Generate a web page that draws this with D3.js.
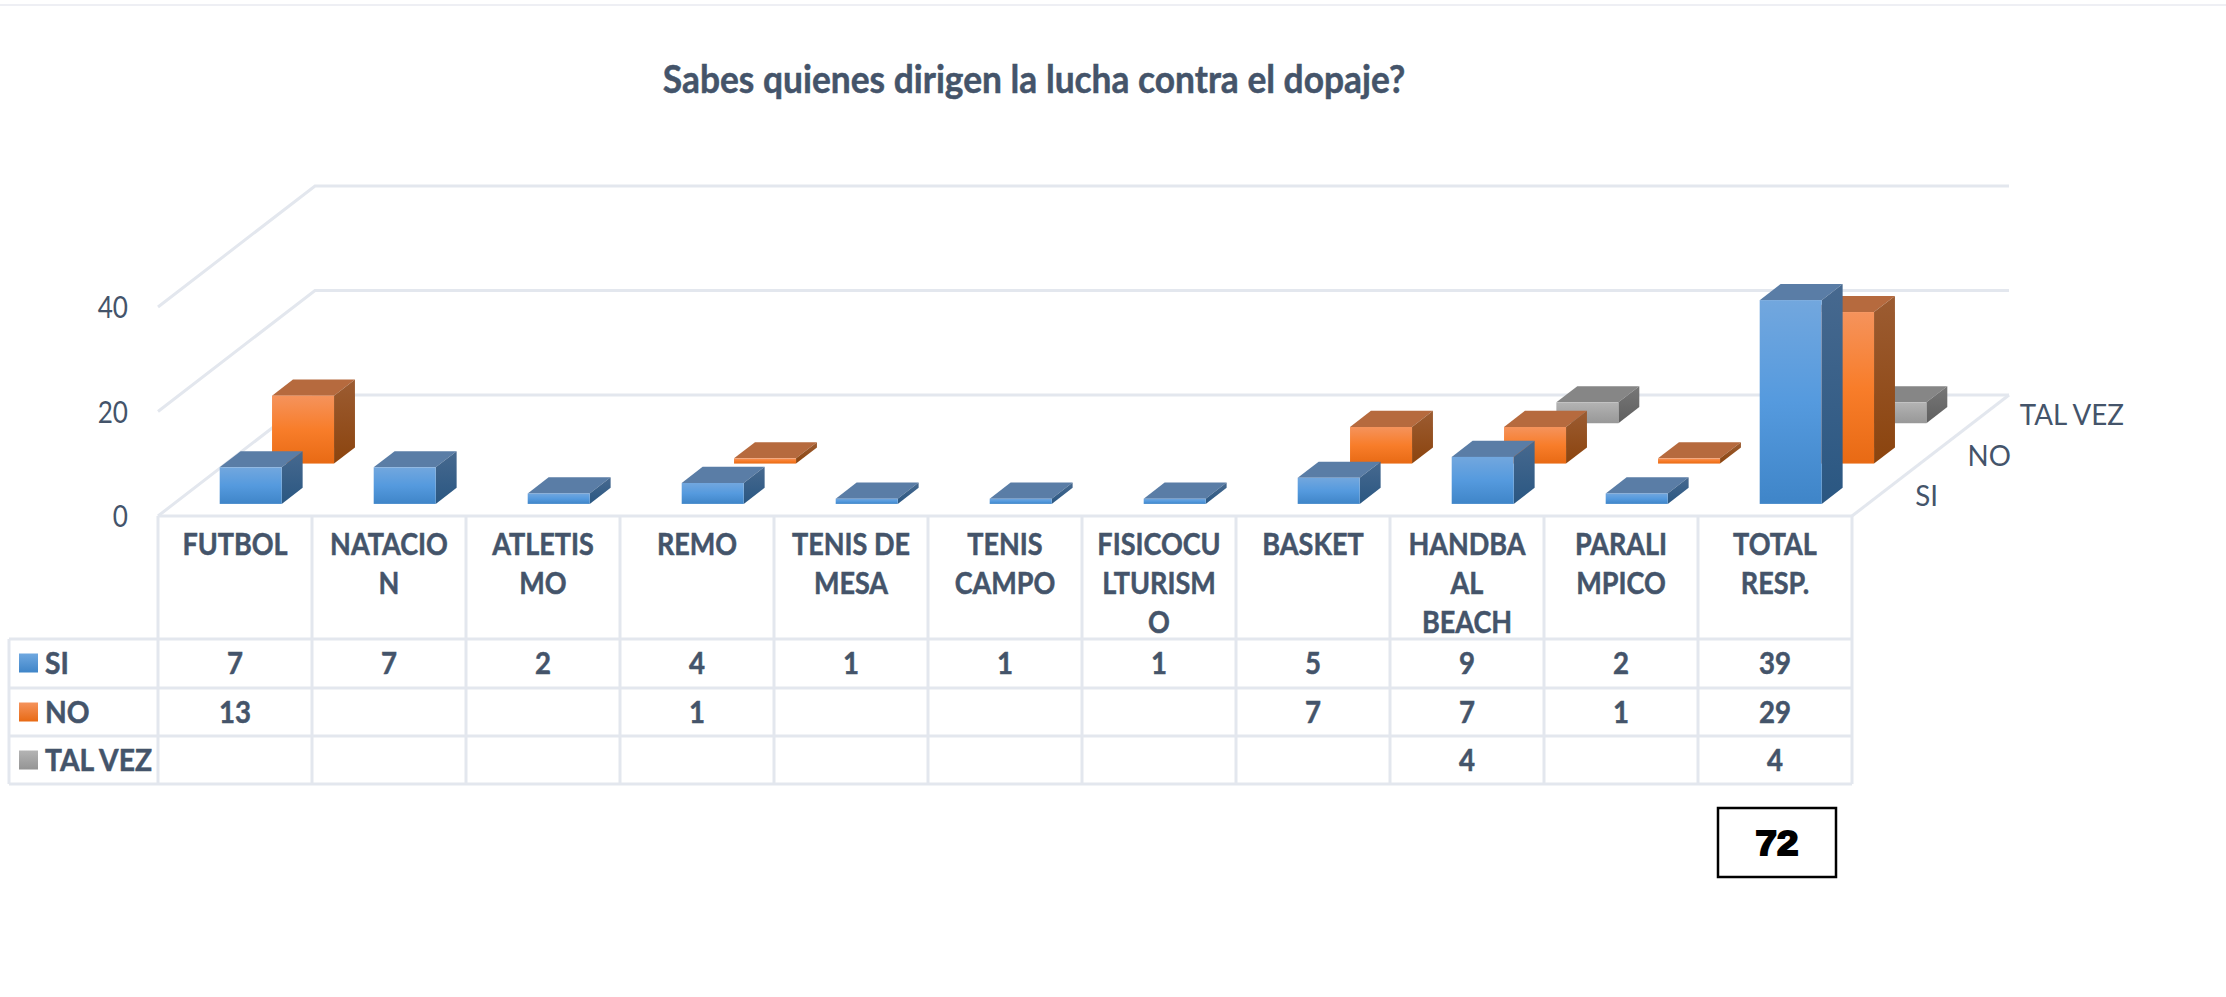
<!DOCTYPE html>
<html><head><meta charset="utf-8">
<script src="https://cdn.jsdelivr.net/npm/d3@7/dist/d3.min.js"></script>
<style>
html,body{margin:0;padding:0;background:#fff;overflow:hidden}
text{font-family:Lato,"Noto Sans",sans-serif;fill:#44546a}
.b{stroke:#44546a;stroke-width:.5px}
</style></head><body><svg id="c" width="2226" height="997"></svg>
<script>
const titleText = "Sabes quienes dirigen la lucha contra el dopaje?";
const categories = ["FUTBOL","NATACION","ATLETISMO","REMO","TENIS DE MESA","TENIS CAMPO","FISICOCULTURISMO","BASKET","HANDBAAL BEACH","PARALIMPICO","TOTAL RESP."];
const categoryLines = [["FUTBOL"],["NATACIO","N"],["ATLETIS","MO"],["REMO"],["TENIS DE","MESA"],["TENIS","CAMPO"],["FISICOCU","LTURISM","O"],["BASKET"],["HANDBA","AL","BEACH"],["PARALI","MPICO"],["TOTAL","RESP."]];
const seriesNames = ["SI","NO","TAL VEZ"];
const si = [7,7,2,4,1,1,1,5,9,2,39];
const no = [13,null,null,1,null,null,null,7,7,1,29];
const talVez = [null,null,null,null,null,null,null,null,4,null,4];
const yTicks = [0,20,40];
const grandTotal = 72;
const seriesValues = [si,no,talVez];
const palettes = [
 {front:["#72a7de","#559ade","#3f85c8"],top:"#5a7da6",side:["#47698f","#2a5782"],key:["#6fa8e0","#3f85c8"]},
 {front:["#f5935c","#f87d2a","#e86a14"],top:"#b66a3e",side:["#9c5c32","#8b440e"],key:["#f5935c","#e86a14"]},
 {front:["#b4b4b4","#a5a5a5","#989898"],top:"#868686",side:["#777777","#5f5f5f"],key:["#b4b4b4","#949494"]}
];
const gridColor="#e3e7ee";

const svg=d3.select("#c");
const defs=svg.append("defs");
function grad(id,stops){
  const g=defs.append("linearGradient").attr("id",id).attr("x1",0).attr("y1",0).attr("x2",0).attr("y2",1);
  stops.forEach((c,i)=>g.append("stop").attr("offset",i/(stops.length-1)).attr("stop-color",c));
}
palettes.forEach((p,i)=>{grad("f"+i,p.front);grad("s"+i,p.side);grad("k"+i,p.key);});

// scales: category across, series in depth, value upward
const x=d3.scaleBand().domain(d3.range(categories.length)).range([158,1852]).paddingInner(0).paddingOuter(0);
const y=d3.scaleLinear().domain([0,40]).range([516,307]);
const depthX=d3.scaleLinear().domain([0,3]).range([0,157]);
const depthY=d3.scaleLinear().domain([0,3]).range([0,-121]);
const P=(xp,val,d)=>[xp+depthX(d),y(val)+depthY(d)];
const pts=a=>a.map(p=>p.join(",")).join(" ");

function fit(sel,factor){sel.each(function(){const l=this.getComputedTextLength();
  d3.select(this).attr("textLength",l*factor).attr("lengthAdjust","spacingAndGlyphs");});return sel;}

svg.append("line").attr("x1",0).attr("x2",2226).attr("y1",5).attr("y2",5).attr("stroke","#e8eaf0").attr("stroke-width",1.5);

fit(svg.append("text").attr("class","b").attr("x",1034).attr("y",93).attr("text-anchor","middle")
  .attr("font-size",39).attr("font-weight",700).text(titleText),0.906);

const grid=svg.append("g").attr("stroke",gridColor).attr("stroke-width",3).attr("fill","none");
yTicks.forEach(t=>{
  grid.append("polyline").attr("points",pts([P(x.range()[0],t,0),P(x.range()[0],t,3),P(x.range()[1],t,3)]));
});
grid.append("line").attr("x1",P(1852,0,0)[0]).attr("y1",P(1852,0,0)[1]).attr("x2",P(1852,0,3)[0]).attr("y2",P(1852,0,3)[1]);

const tickLab=svg.append("g");
yTicks.forEach(t=>{
  fit(tickLab.append("text").attr("x",128).attr("y",y(t)+11).attr("text-anchor","end").attr("font-size",30).text(t),0.87);
});

// table
const rowY=[516,639,688,736,784];
const tbl=svg.append("g").attr("stroke",gridColor).attr("stroke-width",3).attr("fill","none");
tbl.append("line").attr("x1",158).attr("x2",1852).attr("y1",rowY[0]).attr("y2",rowY[0]);
rowY.slice(1).forEach(v=>tbl.append("line").attr("x1",9).attr("x2",1852).attr("y1",v).attr("y2",v));
tbl.append("line").attr("x1",9).attr("x2",9).attr("y1",639).attr("y2",784);
d3.range(categories.length+1).forEach(i=>{
  const xp=i<categories.length?x(i):x.range()[1];
  tbl.append("line").attr("x1",xp).attr("x2",xp).attr("y1",516).attr("y2",784);
});

// bars
const wFrac=62/154, dDepth=0.4;
const barLayer=svg.append("g");
[2,1,0].forEach(s=>{
  categories.forEach((c,i)=>{
    const v=seriesValues[s][i]; if(v==null) return;
    const d0=s+(1-dDepth)/2, d1=d0+dDepth;
    const bw=x.bandwidth()*wFrac;
    const x0=x(i)+(x.bandwidth()-bw)/2, x1=x0+bw;
    const g=barLayer.append("g");
    g.append("polygon").attr("points",pts([P(x0,v,d0),P(x1,v,d0),P(x1,v,d1),P(x0,v,d1)])).attr("fill",palettes[s].top);
    g.append("polygon").attr("points",pts([P(x1,v,d0),P(x1,v,d1),P(x1,0,d1),P(x1,0,d0)])).attr("fill",`url(#s${s})`);
    const a=P(x0,v,d0), b=P(x1,0,d0);
    g.append("rect").attr("x",a[0]).attr("y",a[1]).attr("width",b[0]-a[0]).attr("height",b[1]-a[1]).attr("fill",`url(#f${s})`);
  });
});

// category labels
const lineH=39;
categoryLines.forEach((lines,i)=>lines.forEach((ln,k)=>{
  fit(svg.append("text").attr("class","b").attr("x",x(i)+x.bandwidth()/2).attr("y",555+k*lineH).attr("text-anchor","middle")
    .attr("font-size",30).attr("font-weight",700).text(ln),0.9);
}));

// table rows
const rowMid=[663,712,760];
seriesNames.forEach((n,s)=>{
  svg.append("rect").attr("x",19).attr("y",rowMid[s]-9.5).attr("width",19).attr("height",19).attr("fill",`url(#k${s})`);
  fit(svg.append("text").attr("class","b").attr("x",45).attr("y",rowMid[s]+11).attr("font-size",30).attr("font-weight",700).text(n),0.94);
  seriesValues[s].forEach((v,i)=>{
    if(v==null) return;
    fit(svg.append("text").attr("class","b").attr("x",x(i)+x.bandwidth()/2).attr("y",rowMid[s]+11).attr("text-anchor","middle")
      .attr("font-size",30).attr("font-weight",700).text(v),0.92);
  });
  // side depth label
  const sp=P(1852,0,s+0.5);
  fit(svg.append("text").attr("x",sp[0]+37).attr("y",sp[1]+10).attr("font-size",29).text(n),0.955);
});

// total box
svg.append("rect").attr("x",1718).attr("y",808).attr("width",118).attr("height",69).attr("fill","#fff").attr("stroke","#000").attr("stroke-width",2.5);
fit(svg.append("text").attr("x",1777).attr("y",855).attr("text-anchor","middle").attr("font-size",35)
  .style("font-family","'Liberation Sans'").style("fill","#000").attr("font-weight",700)
  .attr("stroke","#000").attr("stroke-width",2).text(grandTotal),1.1);
</script></body></html>
